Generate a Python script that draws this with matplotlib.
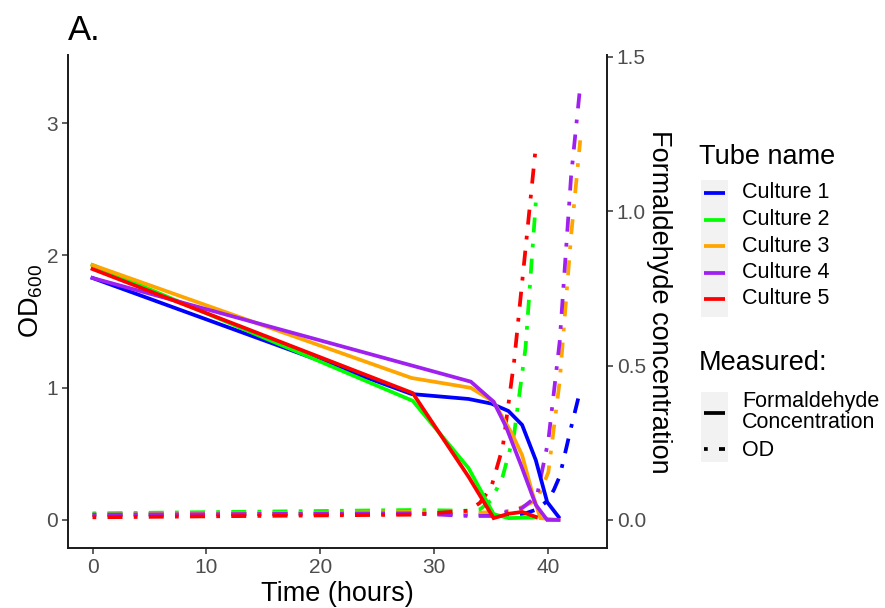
import matplotlib
matplotlib.use("Agg")
import matplotlib.pyplot as plt
from matplotlib.lines import Line2D
from matplotlib.patches import Rectangle

plt.rcParams['font.family'] = ['Liberation Sans', 'DejaVu Sans']
plt.rcParams['mathtext.fontset'] = 'custom'
plt.rcParams['mathtext.rm'] = 'Liberation Sans'
plt.rcParams['mathtext.it'] = 'Liberation Sans:italic'

# ---------------- data ----------------
cultures = ["Culture 1", "Culture 2", "Culture 3", "Culture 4", "Culture 5"]
colors = ["#0000FF", "#00FF00", "#FFA500", "#A020F0", "#FF0000"]

# Formaldehyde concentration (right axis)
c1_t_form = [0, 28, 33, 35, 36.5, 37.7, 38.9, 39.9, 40.9]
c1_form = [0.784, 0.408, 0.392, 0.377, 0.353, 0.308, 0.194, 0.058, 0.01]
c2_t_form = [0, 28.1, 33, 35.2, 36.5, 38.9]
c2_form = [0.826, 0.386, 0.168, 0.019, 0.006, 0.008]
c3_t_form = [0, 28, 33.2, 35.2, 36.8, 37.7, 38.6, 39.3, 40.9]
c3_form = [0.826, 0.46, 0.428, 0.383, 0.28, 0.21, 0.087, 0.006, 0.0]
c4_t_form = [0, 33.2, 35.2, 36.3, 37.6, 38.9, 39.9, 40.9]
c4_form = [0.784, 0.448, 0.383, 0.301, 0.178, 0.049, 0.0, 0.0]
c5_t_form = [0, 28.1, 33, 35.2, 36.5, 37.7, 38.9]
c5_form = [0.813, 0.411, 0.14, 0.006, 0.02, 0.026, 0.01]

# OD600 (left axis)
c1_t_od = [0, 28, 33, 37, 38, 39, 40, 40.5, 41, 42, 42.8]
c1_od = [0.04, 0.05, 0.04, 0.04, 0.05, 0.08, 0.15, 0.23, 0.33, 0.70, 0.98]
c2_t_od = [0, 28, 33, 34, 35, 36, 37, 38, 38.9]
c2_od = [0.05, 0.075, 0.07, 0.08, 0.15, 0.33, 0.65, 1.30, 2.40]
c3_t_od = [0, 28, 33, 37, 38, 39, 40, 41, 42, 42.8]
c3_od = [0.04, 0.06, 0.05, 0.07, 0.11, 0.15, 0.36, 1.05, 2.15, 2.87]
c4_t_od = [0, 28, 33, 35, 36.3, 37.7, 39, 40, 41, 42, 42.8]
c4_od = [0.04, 0.05, 0.03, 0.03, 0.06, 0.09, 0.18, 0.60, 1.35, 2.60, 3.28]
c5_t_od = [0, 28, 33, 34, 35, 36, 37, 38, 38.9]
c5_od = [0.02, 0.04, 0.07, 0.13, 0.25, 0.55, 1.20, 2.05, 2.82]

t_form = [c1_t_form, c2_t_form, c3_t_form, c4_t_form, c5_t_form]
form = [c1_form, c2_form, c3_form, c4_form, c5_form]
t_od = [c1_t_od, c2_t_od, c3_t_od, c4_t_od, c5_t_od]
od = [c1_od, c2_od, c3_od, c4_od, c5_od]

x_ticks = [0, 10, 20, 30, 40]
od_ticks = [0, 1, 2, 3]
form_ticks = [0.0, 0.5, 1.0, 1.5]

# ---------------- figure ----------------
W, H = 885, 608
fig = plt.figure(figsize=(W / 100, H / 100), dpi=100)
ax_l, ax_r, ax_b, ax_t = 68, 607, 548, 55
ax = fig.add_axes([ax_l / W, 1 - ax_b / H, (ax_r - ax_l) / W, (ax_b - ax_t) / H])
ax2 = ax.twinx()

od_lim = (-0.212, 3.515)
ratio = 3.0 / 7.0
ax.set_xlim(-2.15, 45.15)
ax.set_ylim(*od_lim)
ax2.set_ylim(od_lim[0] * ratio, od_lim[1] * ratio)

LW = 2.7
dotdash = (0, (1, 3, 4, 3))
for i in range(5):
    ax.plot(t_od[i], od[i], color=colors[i], lw=LW, linestyle=dotdash,
            dash_capstyle='butt', zorder=3)
for i in range(5):
    ax2.plot(t_form[i], form[i], color=colors[i], lw=LW, solid_joinstyle='miter',
             zorder=3)

tick_col = '#4D4D4D'
for a in (ax, ax2):
    for s in a.spines.values():
        s.set_linewidth(1.4)
        s.set_color('#1a1a1a')
    a.spines['top'].set_visible(False)
    a.tick_params(length=4, width=1.1, color='#333333', labelsize=15,
                  labelcolor=tick_col, pad=3)
ax.spines['right'].set_visible(False)
ax2.spines['left'].set_visible(False)
ax2.spines['bottom'].set_visible(False)

ax.set_xticks(x_ticks)
ax.set_xticklabels([str(v) for v in x_ticks])
ax.set_yticks(od_ticks)
ax.set_yticklabels([str(v) for v in od_ticks])
ax2.set_yticks(form_ticks)
ax2.set_yticklabels([f"{v:.1f}" for v in form_ticks])

ax.set_xlabel("Time (hours)", fontsize=19.5, labelpad=3)
ax.set_ylabel("OD$_{600}$", fontsize=19.5, labelpad=1)
ax2.set_ylabel("Formaldehyde concentration", fontsize=19.5, rotation=-90,
               labelpad=19)

fig.text(68 / W, 1 - 31 / H, "A.", fontsize=25, va='center', ha='left')

# ---------------- legends (manual, ggplot-like) ----------------
def fx(px):
    return px / W

def fy(py):
    return 1 - py / H

fig.text(fx(699), fy(157), "Tube name", fontsize=19.5, va='center', ha='left')
fig.add_artist(Rectangle((fx(701), fy(317)), fx(728) - fx(701), fy(180) - fy(317),
                         transform=fig.transFigure, facecolor='#F2F2F2',
                         edgecolor='none'))
ys = [193, 219.5, 246, 272.5, 299]
for i, name in enumerate(cultures):
    fig.add_artist(Line2D([fx(704), fx(725)], [fy(ys[i])] * 2, color=colors[i],
                          lw=LW, transform=fig.transFigure, solid_capstyle='butt'))
    fig.text(fx(742), fy(ys[i]), name, fontsize=15.5, va='center', ha='left')

fig.text(fx(699), fy(363), "Measured:", fontsize=19.5, va='center', ha='left')
fig.add_artist(Rectangle((fx(701), fy(462)), fx(728) - fx(701), fy(392) - fy(462),
                         transform=fig.transFigure, facecolor='#F2F2F2',
                         edgecolor='none'))
fig.add_artist(Line2D([fx(704), fx(725)], [fy(413)] * 2, color='black', lw=LW,
                      transform=fig.transFigure, solid_capstyle='butt'))
fig.add_artist(Line2D([fx(704), fx(725)], [fy(449)] * 2, color='black', lw=LW,
                      linestyle=dotdash, transform=fig.transFigure,
                      dash_capstyle='butt'))
fig.text(fx(742), fy(412), "Formaldehyde\nConcentration", fontsize=15.5,
         va='center', ha='left', linespacing=0.95)
fig.text(fx(742), fy(451), "OD", fontsize=15.5, va='center', ha='left')

fig.savefig("out.png", dpi=100, facecolor='white')
